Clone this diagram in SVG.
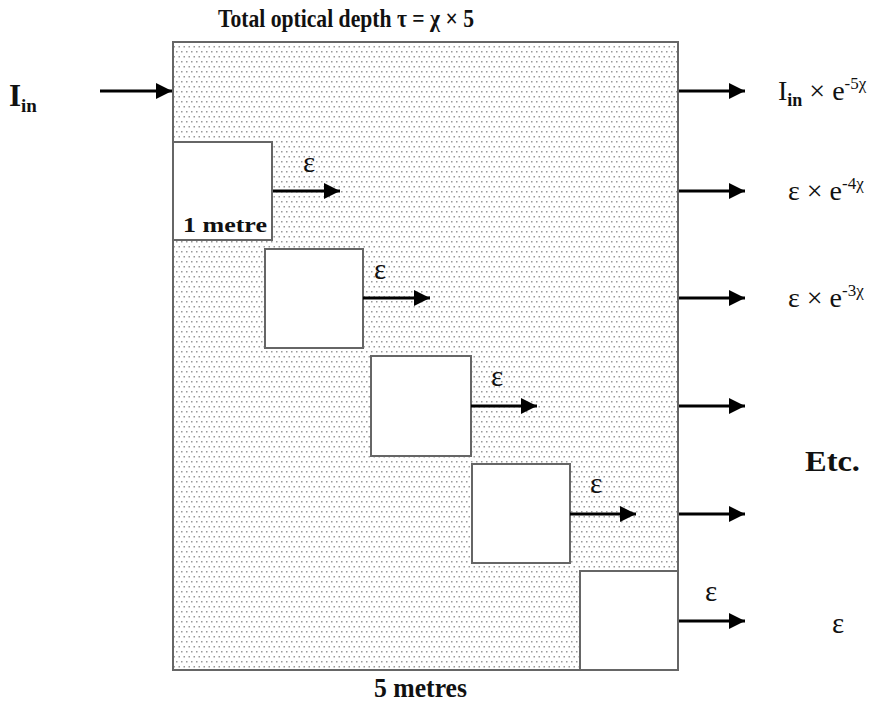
<svg xmlns="http://www.w3.org/2000/svg" width="894" height="704" viewBox="0 0 894 704">
<style>
text{font-family:'Liberation Serif','Times New Roman','DejaVu Serif',serif;fill:#111}
.b{font-weight:bold}
.e{font-size:29px;text-anchor:middle}
.box{fill:#fff;stroke:#666;stroke-width:2}
.ar{stroke:#000;stroke-width:3.2;fill:none}
</style>
<defs>
<pattern id="dots" width="5" height="10" patternUnits="userSpaceOnUse">
<rect width="5" height="10" fill="#fff"/>
<rect x="1" y="1" width="1.5" height="1.5" fill="#999"/>
<rect x="3.5" y="6" width="1.5" height="1.5" fill="#999"/>
</pattern>
<marker id="ah" viewBox="0 0 10 10" refX="10" refY="5" markerWidth="5.5" markerHeight="5" markerUnits="strokeWidth" orient="auto">
<path d="M0,0 L10,5 L0,10 z" fill="#000"/>
</marker>
</defs>
<text class="b" x="218" y="27" font-size="26" textLength="256" lengthAdjust="spacingAndGlyphs">Total optical depth τ = χ × 5</text>
<g id="medium">
<rect x="173" y="42" width="505" height="628" fill="url(#dots)" stroke="#666" stroke-width="2"/>
</g>
<g id="cell1">
<rect class="box" x="173" y="142" width="99" height="98"/>
<text class="b" x="183" y="232" font-size="21" textLength="84" lengthAdjust="spacingAndGlyphs">1 metre</text>
</g>
<g id="cell2"><rect class="box" x="265" y="249" width="98" height="99"/></g>
<g id="cell3"><rect class="box" x="371" y="356" width="100" height="100"/></g>
<g id="cell4"><rect class="box" x="472" y="464" width="98" height="99"/></g>
<g id="cell5"><rect class="box" x="580" y="571" width="98" height="99"/></g>
<g id="connectors">
<line class="ar" x1="100" y1="91" x2="172" y2="91" marker-end="url(#ah)"/>
<line class="ar" x1="273" y1="191" x2="340" y2="191" marker-end="url(#ah)"/>
<line class="ar" x1="363" y1="298" x2="430" y2="298" marker-end="url(#ah)"/>
<line class="ar" x1="471" y1="406" x2="537" y2="406" marker-end="url(#ah)"/>
<line class="ar" x1="570" y1="514" x2="636" y2="514" marker-end="url(#ah)"/>
<line class="ar" x1="679" y1="91" x2="745" y2="91" marker-end="url(#ah)"/>
<line class="ar" x1="679" y1="191" x2="745" y2="191" marker-end="url(#ah)"/>
<line class="ar" x1="679" y1="298" x2="745" y2="298" marker-end="url(#ah)"/>
<line class="ar" x1="679" y1="406" x2="745" y2="406" marker-end="url(#ah)"/>
<line class="ar" x1="679" y1="514" x2="745" y2="514" marker-end="url(#ah)"/>
<line class="ar" x1="679" y1="621" x2="745" y2="621" marker-end="url(#ah)"/>
</g>
<g id="labels">
<text class="b" x="9" y="106" font-size="31">I<tspan font-size="19" dy="6">in</tspan></text>
<text class="e" x="309" y="172">ε</text>
<text class="e" x="380" y="279">ε</text>
<text class="e" x="497" y="386">ε</text>
<text class="e" x="596" y="493">ε</text>
<text class="e" x="711" y="601">ε</text>
<text x="778" y="100" font-size="28">I<tspan class="b" font-size="18" dy="6">in</tspan><tspan dy="-6"> × e</tspan><tspan font-size="17" dy="-11">-5χ</tspan></text>
<text x="788" y="200" font-size="28">ε × e<tspan font-size="17" dy="-11">-4χ</tspan></text>
<text x="788" y="307" font-size="28">ε × e<tspan font-size="17" dy="-11">-3χ</tspan></text>
<text class="b" x="805" y="471" font-size="30" textLength="55" lengthAdjust="spacingAndGlyphs">Etc.</text>
<text class="e" x="838" y="633">ε</text>
<text class="b" x="374" y="697" font-size="27" textLength="93" lengthAdjust="spacingAndGlyphs">5 metres</text>
</g>
</svg>
